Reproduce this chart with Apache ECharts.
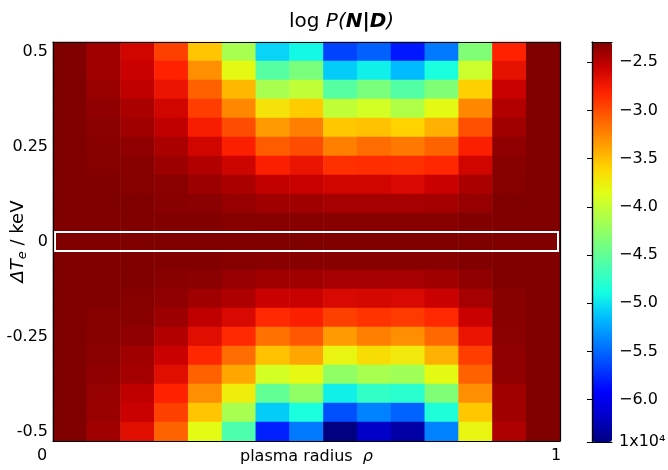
<!doctype html>
<html lang="en">
<head>
    <meta charset="UTF-8">
    <title>log P(N|D)</title>
    <script src="https://cdn.jsdelivr.net/npm/echarts@6/dist/echarts.min.js"></script>
    <style>html, body { margin: 0; padding: 0; background: #fff; }</style>
</head>
<body>
<div id="main" style="width: 668px;height:470px;"></div>
<script>
    // plasma radius bins (15 columns, 0 .. 1)
    var radius = ['0.03', '0.10', '0.17', '0.23', '0.30', '0.37', '0.43', '0.50',
                  '0.57', '0.63', '0.70', '0.77', '0.83', '0.90', '0.97'];
    // delta Te rows, top to bottom (keV)
    var deltaTe = ['0.5', '0.45', '0.4', '0.35', '0.3', '0.25', '0.2', '0.15', '0.1', '0.05', '0',
                   '-0.05', '-0.1', '-0.15', '-0.2', '-0.25', '-0.3', '-0.35', '-0.4', '-0.45', '-0.5'];

    // log P(N|D) per row
    var te050 = [-2.29, -2.41, -2.59, -2.94, -3.53, -4.14, -5.06, -4.91, -5.65, -5.53, -5.83, -5.43, -4.34, -2.81, -2.29];
    var te045 = [-2.29, -2.41, -2.56, -2.81, -3.29, -3.82, -4.56, -4.37, -5.09, -4.95, -5.16, -4.86, -3.96, -2.69, -2.29];
    var te040 = [-2.29, -2.38, -2.52, -2.71, -3.09, -3.47, -4.14, -4.02, -4.56, -4.37, -4.57, -4.34, -3.58, -2.56, -2.29];
    var te035 = [-2.29, -2.35, -2.44, -2.59, -2.93, -3.26, -3.68, -3.56, -4.02, -3.92, -4.10, -3.82, -3.26, -2.47, -2.29];
    var te030 = [-2.29, -2.33, -2.41, -2.52, -2.77, -3.00, -3.34, -3.22, -3.54, -3.51, -3.59, -3.44, -3.01, -2.41, -2.29];
    var te025 = [-2.29, -2.32, -2.35, -2.44, -2.59, -2.79, -3.07, -3.00, -3.22, -3.14, -3.19, -3.10, -2.79, -2.35, -2.29];
    var te020 = [-2.29, -2.31, -2.32, -2.39, -2.47, -2.58, -2.79, -2.71, -2.87, -2.86, -2.87, -2.83, -2.59, -2.32, -2.29];
    var te015 = [-2.29, -2.29, -2.31, -2.33, -2.39, -2.44, -2.53, -2.55, -2.59, -2.59, -2.62, -2.56, -2.44, -2.31, -2.29];
    var te010 = [-2.29, -2.29, -2.29, -2.32, -2.33, -2.37, -2.41, -2.41, -2.43, -2.43, -2.43, -2.42, -2.37, -2.29, -2.29];
    var te005 = [-2.29, -2.29, -2.29, -2.30, -2.30, -2.31, -2.32, -2.32, -2.32, -2.32, -2.32, -2.32, -2.30, -2.29, -2.29];
    var te000 = [-2.29, -2.29, -2.29, -2.29, -2.29, -2.29, -2.29, -2.29, -2.29, -2.29, -2.29, -2.29, -2.29, -2.29, -2.29];
    var tem005 = [-2.29, -2.29, -2.29, -2.30, -2.30, -2.31, -2.32, -2.32, -2.32, -2.32, -2.32, -2.32, -2.30, -2.29, -2.29];
    var tem010 = [-2.29, -2.29, -2.29, -2.32, -2.33, -2.37, -2.41, -2.41, -2.43, -2.43, -2.43, -2.41, -2.35, -2.29, -2.29];
    var tem015 = [-2.29, -2.29, -2.31, -2.35, -2.41, -2.46, -2.56, -2.55, -2.62, -2.61, -2.62, -2.56, -2.43, -2.32, -2.29];
    var tem020 = [-2.29, -2.31, -2.32, -2.39, -2.52, -2.62, -2.84, -2.79, -2.94, -2.89, -2.92, -2.84, -2.56, -2.32, -2.29];
    var tem025 = [-2.29, -2.32, -2.35, -2.47, -2.66, -2.84, -3.16, -3.05, -3.34, -3.22, -3.29, -3.12, -2.71, -2.33, -2.29];
    var tem030 = [-2.29, -2.33, -2.41, -2.56, -2.83, -3.14, -3.51, -3.40, -3.78, -3.65, -3.72, -3.44, -2.93, -2.35, -2.29];
    var tem035 = [-2.29, -2.35, -2.42, -2.66, -3.09, -3.40, -3.92, -3.81, -4.26, -4.14, -4.18, -3.82, -3.09, -2.35, -2.29];
    var tem040 = [-2.29, -2.37, -2.52, -2.81, -3.29, -3.74, -4.49, -4.26, -4.95, -4.74, -4.78, -4.34, -3.29, -2.41, -2.29];
    var tem045 = [-2.29, -2.38, -2.56, -2.94, -3.53, -4.14, -5.09, -4.86, -5.60, -5.40, -5.52, -4.84, -3.54, -2.41, -2.29];
    var tem050 = [-2.29, -2.41, -2.66, -3.10, -3.83, -4.61, -5.79, -5.43, -6.44, -6.18, -6.30, -5.40, -3.78, -2.46, -2.29];

    var logP = [te050, te045, te040, te035, te030, te025, te020, te015, te010, te005, te000,
                tem005, tem010, tem015, tem020, tem025, tem030, tem035, tem040, tem045, tem050];

    // colour bar range and ticks on the x axis
    var cbMin = -6.44;
    var cbMax = -2.29;
    var xTickCols = [2, 4, 8, 10, 12, 14];
    var xLabels = [0, 1];

    var jet = ['#000080', '#0000c8', '#0000ff', '#0040ff', '#0080ff', '#00bfff', '#15ffe2', '#48ffaf',
               '#7bff7b', '#afff48', '#e2ff15', '#ffd200', '#ff9700', '#ff5c00', '#ff2100', '#c80000', '#800000'];

    var cells = [];
    for (var i = 0; i < logP.length; i++) {
        for (var j = 0; j < logP[i].length; j++) {
            cells.push([j, i, logP[i][j]]);
        }
    }

    var font = 'DejaVu Sans';
    var blackLine = {show: true, lineStyle: {color: '#000', width: 1.2}};

    var myChart = echarts.init(document.getElementById('main'));
    var option = {
        animation: false,
        textStyle: {fontFamily: font, color: '#000'},
        title: {
            text: '{n|log }{i|P(}{bi|N}{b||}{bi|D}{i|)}',
            left: 284,
            top: 7,
            textStyle: {
                fontWeight: 'normal',
                rich: {
                    n: {fontSize: 20, fontFamily: font, fontWeight: 'normal', color: '#000'},
                    i: {fontSize: 20, fontFamily: font, fontWeight: 'normal', fontStyle: 'italic', color: '#000'},
                    b: {fontSize: 20, fontFamily: font, fontWeight: 'bold', color: '#000'},
                    bi: {fontSize: 20, fontFamily: font, fontWeight: 'bold', fontStyle: 'italic', color: '#000'}
                }
            }
        },
        grid: [
            {left: 53, top: 42, width: 507, height: 399, outerBoundsMode: 'none'},
            {left: 42, top: 442, width: 514, height: 1, outerBoundsMode: 'none'},
            {left: 592, top: 42, width: 20, height: 400, outerBoundsMode: 'none'}
        ],
        xAxis: [
            {
                type: 'category', gridIndex: 0, data: radius, position: 'bottom', z: 10,
                axisLine: blackLine,
                axisTick: {inside: true, length: 5, lineStyle: {color: '#000'},
                    interval: function (idx) { return xTickCols.indexOf(idx) >= 0; }},
                axisLabel: {show: false},
                name: 'plasma radius  {i|ρ}', nameLocation: 'middle', nameGap: 8, nameMoveOverlap: false,
                nameTextStyle: {fontSize: 16, fontFamily: font, color: '#000',
                    rich: {i: {fontSize: 16, fontFamily: font, fontStyle: 'italic', color: '#000'}}}
            },
            {
                type: 'category', gridIndex: 0, data: radius, position: 'top', z: 10,
                axisLine: blackLine,
                axisTick: {inside: true, length: 5, lineStyle: {color: '#000'},
                    interval: function (idx) { return xTickCols.indexOf(idx) >= 0; }},
                axisLabel: {show: false}
            },
            {
                type: 'value', gridIndex: 1, min: xLabels[0], max: xLabels[1], interval: 1,
                axisLine: {show: false}, axisTick: {show: false}, splitLine: {show: false},
                axisLabel: {fontSize: 16, fontFamily: font, color: '#000', margin: 5}
            },
            {
                type: 'value', gridIndex: 2, min: 0, max: 1, position: 'bottom', z: 10,
                axisLine: blackLine, axisTick: {show: false}, axisLabel: {show: false}, splitLine: {show: false}
            },
            {
                type: 'value', gridIndex: 2, min: 0, max: 1, position: 'top', z: 10,
                axisLine: blackLine, axisTick: {show: false}, axisLabel: {show: false}, splitLine: {show: false}
            }
        ],
        yAxis: [
            {
                type: 'category', gridIndex: 0, data: deltaTe, inverse: true, position: 'left', z: 10,
                axisLine: blackLine,
                axisTick: {inside: true, length: 5, alignWithLabel: true, interval: 4, lineStyle: {color: '#000'}},
                axisLabel: {interval: 4, fontSize: 16, fontFamily: font, color: '#000', margin: 5},
                name: '{i|ΔT}{s|e}{n| / keV}', nameLocation: 'middle', nameGap: 24, nameRotate: 90,
                nameMoveOverlap: false,
                nameTextStyle: {
                    rich: {
                        i: {fontSize: 18, fontFamily: font, fontStyle: 'italic', color: '#000'},
                        s: {fontSize: 13, fontFamily: font, fontStyle: 'italic', color: '#000', padding: [9, 0, 0, 0]},
                        n: {fontSize: 18, fontFamily: font, color: '#000'}
                    }
                }
            },
            {
                type: 'category', gridIndex: 0, data: deltaTe, inverse: true, position: 'right', z: 10,
                axisLine: blackLine,
                axisTick: {inside: true, length: 5, lineStyle: {color: '#000'},
                    interval: function (idx) { return idx % 5 === 1; }},
                axisLabel: {show: false}
            },
            {type: 'value', gridIndex: 1, show: false},
            {
                type: 'value', gridIndex: 2, min: 0, max: 1, position: 'left', z: 10,
                axisLine: blackLine, axisTick: {show: false}, axisLabel: {show: false}, splitLine: {show: false}
            },
            {
                type: 'value', gridIndex: 2, min: cbMin, max: cbMax, splitNumber: 8, position: 'right', z: 10,
                axisLine: blackLine, splitLine: {show: false},
                axisTick: {inside: true, length: 5, lineStyle: {color: '#000'}},
                axisLabel: {
                    fontSize: 16, fontFamily: font, color: '#000', margin: 7,
                    showMinLabel: true, showMaxLabel: false,
                    formatter: function (v) {
                        if (Math.abs(v - cbMin) < 1e-6) return '1x10⁴';
                        return v.toFixed(1).replace('-', '\u2212');
                    }
                }
            }
        ],
        visualMap: {
            type: 'continuous', min: cbMin, max: cbMax, seriesIndex: 0,
            calculable: false, hoverLink: false,
            orient: 'vertical', left: 592, top: 42, padding: 0,
            itemWidth: 20, itemHeight: 400,
            inRange: {color: jet}
        },
        series: [
            {
                type: 'heatmap', xAxisIndex: 0, yAxisIndex: 0, data: cells,
                itemStyle: {borderWidth: 0}, emphasis: {disabled: true}
            },
            {
                type: 'custom', xAxisIndex: 0, yAxisIndex: 0, z: 5, silent: true,
                data: [[0, deltaTe.indexOf('0')]],
                renderItem: function (params, api) {
                    var a = api.coord([0, api.value(1)]);
                    var b = api.coord([radius.length - 1, api.value(1)]);
                    var s = api.size([1, 1]);
                    return {
                        type: 'rect',
                        shape: {x: a[0] - s[0] / 2 + 2, y: a[1] - s[1] / 2, width: b[0] - a[0] + s[0] - 4, height: s[1]},
                        style: {fill: 'none', stroke: '#fff', lineWidth: 2}
                    };
                }
            }
        ]
    };
    myChart.setOption(option);
</script>
</body>
</html>
